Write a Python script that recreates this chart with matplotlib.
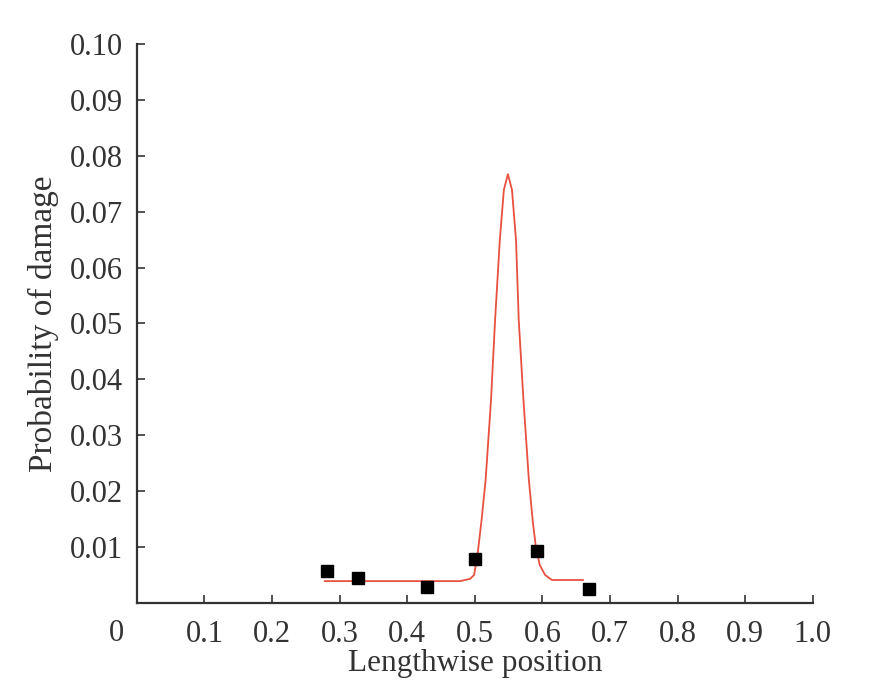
import matplotlib
matplotlib.use("Agg")
import matplotlib.pyplot as plt

# measured points
pos_x = [0.281, 0.327, 0.430, 0.501, 0.592, 0.669]
prob_y = [0.0057, 0.0045, 0.0029, 0.0079, 0.0093, 0.0025]

# fitted curve
curve_x = [0.278, 0.478, 0.493, 0.499, 0.504, 0.510, 0.516, 0.524, 0.530, 0.537,
           0.543, 0.549, 0.555, 0.561, 0.565, 0.572, 0.580, 0.586, 0.590, 0.596,
           0.604, 0.614, 0.660]
curve_y = [0.0039, 0.0039, 0.0043, 0.0050, 0.0086, 0.0148, 0.0220, 0.0363, 0.0506, 0.0649,
           0.0739, 0.0767, 0.0739, 0.0649, 0.0506, 0.0363, 0.0220, 0.0143, 0.0104, 0.0068,
           0.0050, 0.0041, 0.0041]

xticks = [0.1, 0.2, 0.3, 0.4, 0.5, 0.6, 0.7, 0.8, 0.9, 1.0]
xticklabels = ["0.1", "0.2", "0.3", "0.4", "0.5", "0.6", "0.7", "0.8", "0.9", "1.0"]
yticks = [0.01, 0.02, 0.03, 0.04, 0.05, 0.06, 0.07, 0.08, 0.09, 0.10]
yticklabels = ["0.01", "0.02", "0.03", "0.04", "0.05", "0.06", "0.07", "0.08", "0.09", "0.10"]

plt.rcParams['font.family'] = ['Liberation Serif', 'DejaVu Serif']

fig = plt.figure(figsize=(8.72, 6.97), dpi=100)
ax = fig.add_axes([0.157, 0.135, 0.775, 0.802])

ax.plot(curve_x, curve_y, color='#e8503f', lw=1.3, zorder=2)
ax.plot(pos_x, prob_y, linestyle='none', marker='s', markersize=8.5,
        color='black', zorder=3)

ax.set_xlim(0, 1.0)
ax.set_ylim(0, 0.10)
ax.set_xticks(xticks)
ax.set_xticklabels(xticklabels)
ax.set_yticks(yticks)
ax.set_yticklabels(yticklabels)

for s in ['top', 'right']:
    ax.spines[s].set_visible(False)
for s in ['left', 'bottom']:
    ax.spines[s].set_linewidth(1.6)
    ax.spines[s].set_color('#333333')

ax.tick_params(axis='both', direction='in', length=6, width=1.2, color='#333333',
               labelsize=22, labelcolor='#333333')
ax.tick_params(axis='x', pad=12)
ax.tick_params(axis='y', pad=10)

ax.annotate("0", xy=(0, 0), xycoords='data', xytext=(-20, -16),
            textcoords='offset pixels', ha='center', va='top', fontsize=22,
            color='#333333', annotation_clip=False)

ax.set_xlabel("Lengthwise position", fontsize=22.5, color='#333333', labelpad=0)
ax.set_ylabel("Probability of damage", fontsize=24, color='#333333', labelpad=8)

fig.savefig("out.png", dpi=100)
